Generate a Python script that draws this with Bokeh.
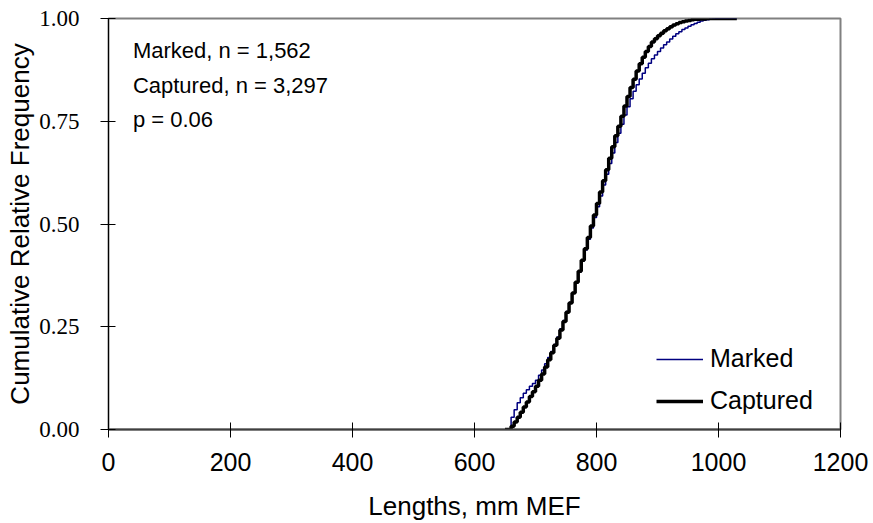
from bokeh.plotting import figure
from bokeh.models import Range1d, FixedTicker, PrintfTickFormatter, Label, Legend, LegendItem
from bokeh.embed import file_html
from bokeh.resources import INLINE

# Lengths (mm MEF), 5 mm bins
lengths = [650, 655, 660, 665, 670, 675, 680, 685, 690, 695,
           700, 705, 710, 715, 720, 725, 730, 735, 740, 745,
           750, 755, 760, 765, 770, 775, 780, 785, 790, 795,
           800, 805, 810, 815, 820, 825, 830, 835, 840, 845,
           850, 855, 860, 865, 870, 875, 880, 885, 890, 895,
           900, 905, 910, 915, 920, 925, 930, 935, 940, 945,
           950, 955, 960, 965, 970, 975, 980, 985, 990, 995,
           1000, 1005, 1010, 1015, 1020, 1025, 1030]

# Cumulative relative frequency, Marked fish
marked_cum = [0.000, 0.000, 0.030, 0.048, 0.065, 0.077, 0.088, 0.097, 0.105, 0.112,
              0.120, 0.132, 0.145, 0.160, 0.175, 0.190, 0.207, 0.225, 0.245, 0.265,
              0.287, 0.309, 0.332, 0.357, 0.383, 0.410, 0.437, 0.463, 0.490, 0.516,
              0.542, 0.568, 0.595, 0.621, 0.647, 0.673, 0.698, 0.721, 0.743, 0.765,
              0.785, 0.805, 0.823, 0.839, 0.853, 0.867, 0.880, 0.891, 0.902, 0.911,
              0.920, 0.928, 0.936, 0.943, 0.950, 0.957, 0.963, 0.968, 0.973, 0.977,
              0.981, 0.985, 0.988, 0.991, 0.994, 0.996, 0.997, 0.998, 0.999, 1.000,
              1.000, 1.000, 1.000, 1.000, 1.000, 1.000, 1.000]

# Cumulative relative frequency, Captured fish
captured_cum = [0.000, 0.000, 0.008, 0.018, 0.030, 0.042, 0.055, 0.067, 0.080, 0.092,
                0.105, 0.120, 0.135, 0.152, 0.170, 0.187, 0.205, 0.222, 0.242, 0.263,
                0.285, 0.308, 0.332, 0.358, 0.385, 0.412, 0.440, 0.467, 0.495, 0.522,
                0.550, 0.578, 0.605, 0.632, 0.660, 0.688, 0.715, 0.738, 0.762, 0.787,
                0.810, 0.832, 0.852, 0.872, 0.890, 0.906, 0.920, 0.932, 0.943, 0.951,
                0.958, 0.964, 0.970, 0.975, 0.980, 0.984, 0.987, 0.990, 0.992, 0.994,
                0.995, 0.997, 0.998, 0.998, 0.999, 0.999, 1.000, 1.000, 1.000, 1.000,
                1.000, 1.000, 1.000, 1.000, 1.000, 1.000, 1.000]

x_ticks = [0, 200, 400, 600, 800, 1000, 1200]
y_ticks = [0.0, 0.25, 0.5, 0.75, 1.0]

annotation_lines = ["Marked, n = 1,562", "Captured, n = 3,297", "p = 0.06"]
annotation_y = [0.921, 0.838, 0.755]

p = figure(width=873, height=523, x_range=Range1d(0, 1200), y_range=Range1d(0, 1),
           output_backend="svg", toolbar_location=None,
           min_border_left=108, min_border_right=33, min_border_top=18, min_border_bottom=93)

p.xgrid.visible = False
p.ygrid.visible = False
p.outline_line_color = "#808080"
p.outline_line_width = 2
p.background_fill_color = "white"
p.border_fill_color = "white"

r_marked = p.step(lengths, marked_cum, mode="after", line_color="#000080", line_width=1.5)
r_capt = p.step(lengths, captured_cum, mode="after", line_color="black", line_width=3.5)

# axes
p.xaxis.ticker = FixedTicker(ticks=x_ticks)
p.yaxis.ticker = FixedTicker(ticks=y_ticks)
p.yaxis.formatter = PrintfTickFormatter(format="%.2f")
for ax in (p.xaxis[0], p.yaxis[0]):
    ax.major_tick_in = 7
    ax.major_tick_out = 8
    ax.minor_tick_line_color = None
    ax.major_tick_line_color = "black"
    ax.axis_label_text_font = "Liberation Sans"
    ax.axis_label_text_font_size = "26px"
    ax.axis_label_text_font_style = "normal"
    ax.axis_label_text_color = "black"
    ax.major_label_text_color = "black"

p.xaxis.axis_label = "Lengths, mm MEF"
p.yaxis.axis_label = "Cumulative Relative Frequency"
p.xaxis.axis_line_color = "#404040"
p.xaxis.axis_line_width = 2
p.yaxis.axis_line_color = "black"
p.yaxis.axis_line_width = 1

p.xaxis.major_label_text_font = "Liberation Sans"
p.xaxis.major_label_text_font_size = "25px"
p.xaxis.major_label_standoff = 15
p.xaxis.axis_label_standoff = 17

p.yaxis.major_label_text_font = "Liberation Serif"
p.yaxis.major_label_text_font_size = "23px"
p.yaxis.major_label_standoff = 21
p.yaxis.axis_label_standoff = 1

# annotation
for txt, yy in zip(annotation_lines, annotation_y):
    p.add_layout(Label(x=40, y=yy, text=txt, text_font="Liberation Sans",
                       text_font_size="22px", text_baseline="alphabetic", text_color="black"))

legend = Legend(items=[LegendItem(label="Marked", renderers=[r_marked]),
                       LegendItem(label="Captured", renderers=[r_capt])],
                location=(548, 14), border_line_color=None, background_fill_alpha=0,
                padding=0, margin=0, spacing=13, glyph_width=47, glyph_height=28,
                label_height=28, label_standoff=7, label_text_font="Liberation Sans",
                label_text_font_size="25px", label_text_color="black")
p.add_layout(legend)

open("out.html", "w").write(file_html(p, INLINE))
